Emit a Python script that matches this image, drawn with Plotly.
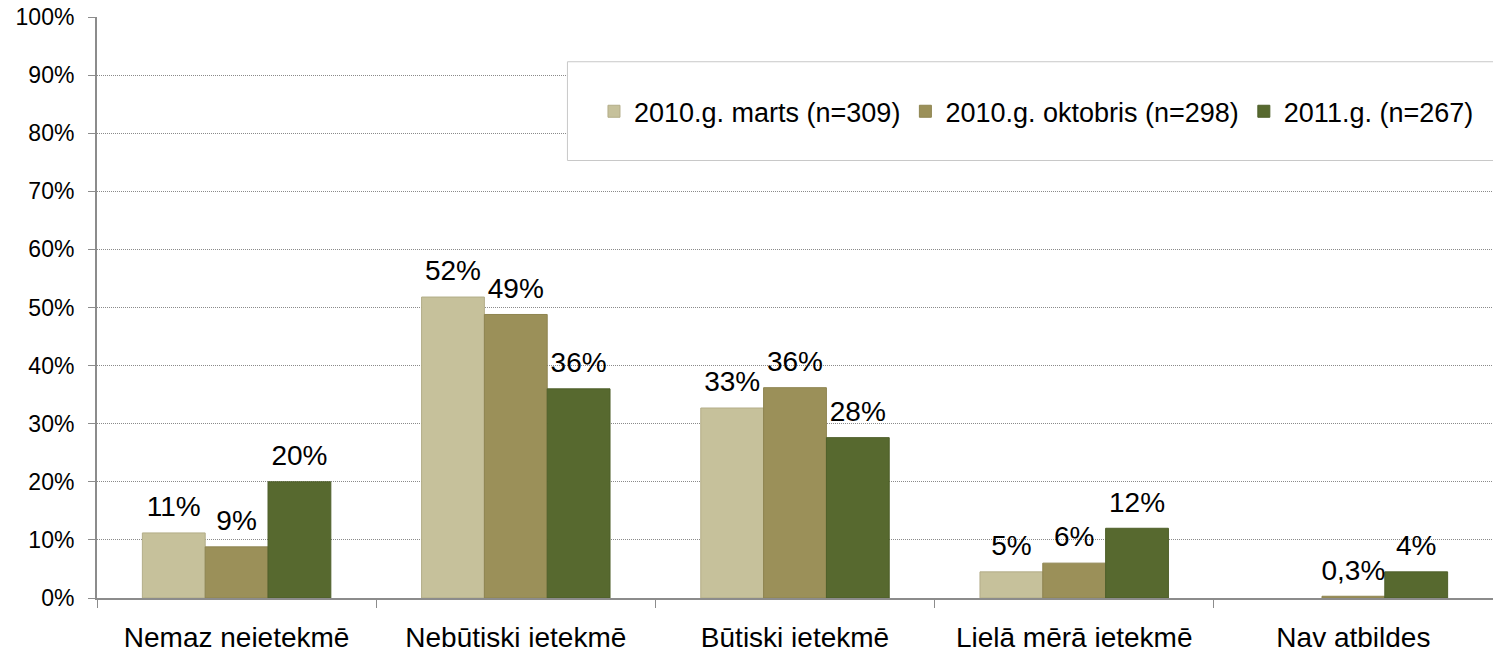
import plotly.graph_objects as go

# --- data ---
categories = ["Nemaz neietekmē", "Nebūtiski ietekmē", "Būtiski ietekmē",
              "Lielā mērā ietekmē", "Nav atbildes"]
series_names = ["2010.g. marts (n=309)", "2010.g. oktobris (n=298)", "2011.g. (n=267)"]
marts_2010 = [11.2, 51.8, 32.7, 4.5, None]
oktobris_2010 = [8.8, 48.8, 36.2, 6.0, 0.3]
gads_2011 = [20.0, 36.0, 27.6, 12.0, 4.5]
marts_labels = ["11%", "52%", "33%", "5%", None]
oktobris_labels = ["9%", "49%", "36%", "6%", "0,3%"]
gads_labels = ["20%", "36%", "28%", "12%", "4%"]
y_ticks = [0, 10, 20, 30, 40, 50, 60, 70, 80, 90, 100]
y_tick_text = [f"{t}%" for t in y_ticks]

colors = ["#C6C19B", "#9B9059", "#57692F"]
edge = ["#B3AD88", "#8E8450", "#4E5F2A"]
FONT = "Liberation Sans, Arial, sans-serif"

values = [marts_2010, oktobris_2010, gads_2011]
labels = [marts_labels, oktobris_labels, gads_labels]

fig = go.Figure()
for i, name in enumerate(series_names):
    fig.add_trace(go.Bar(
        x=categories, y=values[i], name=name,
        marker=dict(color=colors[i], line=dict(color=edge[i], width=1)),
        offsetgroup=str(i), alignmentgroup="a",
    ))
# data labels sitting above the bars
for i, name in enumerate(series_names):
    fig.add_trace(go.Scatter(
        x=categories, y=values[i], mode="markers+text",
        text=labels[i], textposition="top center",
        textfont=dict(family=FONT, size=28, color="#000000"),
        marker=dict(size=14, opacity=0),
        offsetgroup=str(i), alignmentgroup="a",
        showlegend=False, hoverinfo="skip", cliponaxis=False,
    ))

fig.update_layout(
    width=1493, height=655,
    barmode="group", bargap=0.325, bargroupgap=0,
    scattermode="group", scattergap=0.325,
    paper_bgcolor="white", plot_bgcolor="white",
    margin=dict(l=97, r=0, t=17, b=57),
    font=dict(family=FONT, color="#000000"),
    legend=dict(
        orientation="h", x=0.356, xanchor="left", y=0.837, yanchor="middle",
        bgcolor="rgba(0,0,0,0)", font=dict(family=FONT, size=27),
        itemwidth=30, traceorder="normal",
    ),
    shapes=[dict(
        type="rect", xref="paper", yref="paper",
        x0=0.337, x1=1.002, y0=0.753, y1=0.923,
        line=dict(color="#C8C8C8", width=1), fillcolor="white", layer="above",
    )],
)

fig.update_yaxes(
    range=[0, 100], tickvals=y_ticks, ticktext=y_tick_text,
    showgrid=True, gridcolor="#8A8A8A", gridwidth=1, griddash="1px,1px",
    showline=True, linecolor="#8C8C8C", linewidth=2,
    ticks="outside", ticklen=7, tickcolor="#8C8C8C",
    tickfont=dict(family=FONT, size=23, color="#000000"),
    ticklabelstandoff=9, automargin=False,
    zeroline=False, fixedrange=True,
)
fig.update_xaxes(
    showline=True, linecolor="#8C8C8C", linewidth=2,
    ticks="outside", ticklen=8, tickcolor="#8C8C8C", tickson="boundaries",
    tickfont=dict(family=FONT, size=28, color="#000000"),
    ticklabelstandoff=13, automargin=False,
)

# drop the default 8px page margin so the figure fills the window exactly
fig.write_html("out.html", config={"displayModeBar": False},
               post_script="document.body.style.margin='0';")
